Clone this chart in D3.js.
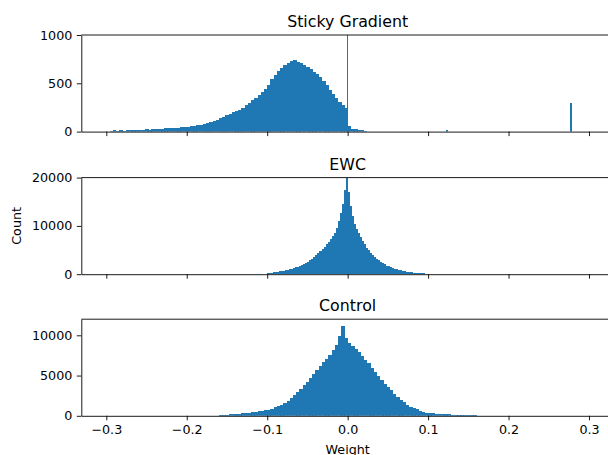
<!DOCTYPE html>
<html>
<head>
<meta charset="utf-8">
<script src="https://cdn.jsdelivr.net/npm/d3@7"></script>
<style>
  body { margin: 0; background: #fff; }
  svg { display: block; font-family: "DejaVu Sans", sans-serif; }
</style>
</head>
<body>
<div id="chart"></div>
<script>
// panels, top to bottom
const panelTitles = ["Sticky Gradient", "EWC", "Control"];
const panelYMax = [1000, 20000, 12000];
const panelYTicks = [[0, 500, 1000], [0, 10000, 20000], [0, 5000, 10000]];
const xTicks = [-0.3, -0.2, -0.1, 0.0, 0.1, 0.2, 0.3];

// histogram counts (bin start, bin width, counts)
const stickyStart = -0.296;
const stickyWidth = 0.004;
const stickyCounts = [
  10, 12, 9, 13, 11, 14, 12, 17, 15, 19,
  18, 22, 20, 26, 24, 31, 29, 35, 33, 38,
  41, 37, 44, 46, 43, 55, 60, 68, 72, 80,
  88, 98, 110, 122, 138, 150, 168, 182, 205, 212,
  228, 248, 272, 300, 322, 345, 378, 405, 440, 480,
  545, 590, 625, 660, 690, 715, 728, 740, 722, 708,
  690, 670, 650, 620, 595, 565, 525, 480, 430, 385,
  345, 310, 280, 245, 55, 32, 28, 18, 14, 10
];
// single thin bins standing out of the sticky histogram
const stickySpikeWeights = [-0.0012, 0.1225, 0.2765];
const stickySpikeCounts = [1100, 15, 293];
const stickySpikeWidth = 0.00125;

const ewcStart = -0.1;
const ewcWidth = 0.0025;
const ewcCounts = [
  200, 260, 320, 390, 470, 540, 600, 660, 730, 830,
  920, 1000, 1120, 1260, 1400, 1540, 1700, 1880, 2080, 2330,
  2600, 2880, 3250, 3600, 3950, 4300, 4700, 5200, 5650, 6150,
  6650, 7250, 7900, 8600, 9600, 11000, 12600, 14500, 17500, 20000,
  17000, 14200, 12000, 10300, 9300, 8500, 7700, 6900, 6200, 5500,
  4950, 4450, 3900, 3500, 3200, 2900, 2620, 2350, 2080, 1800,
  1600, 1450, 1290, 1130, 1000, 880, 780, 690, 610, 540,
  470, 410, 350, 300, 260, 220, 190, 160, 140, 100
];

const controlStart = -0.16;
const controlWidth = 0.004;
const controlCounts = [
  110, 130, 150, 170, 195, 220, 250, 290, 330, 370,
  420, 480, 550, 620, 690, 780, 900, 1040, 1200, 1400,
  1650, 1900, 2200, 2550, 2950, 3350, 3800, 4250, 4700, 5200,
  5700, 6200, 6650, 7100, 7600, 8150, 8750, 9900, 11200, 9700,
  9000, 8700, 8300, 7950, 7450, 6950, 6500, 6000, 5500, 5000,
  4500, 4000, 3600, 3150, 2750, 2350, 2000, 1680, 1400, 1150,
  960, 800, 640, 500, 400, 330, 290, 250, 220, 200,
  180, 165, 150, 140, 130, 120, 110, 100, 90, 60
];

const barColor = "#1f77b4";
const W = 608, H = 455;
const plotLeft = 81.3, plotRight = 614;
const panelTops = [35, 177.6, 319.2];
const panelHeight = 96.6;
const tickFont = "12.7px";

function toBins(start, width, counts) {
  return counts.map((c, i) => ({ x0: start + i * width, x1: start + (i + 1) * width, count: c }));
}

const panelBins = [
  toBins(stickyStart, stickyWidth, stickyCounts)
    .concat(stickySpikeWeights.map((w, i) => ({ x0: w, x1: w + stickySpikeWidth, count: stickySpikeCounts[i] }))),
  toBins(ewcStart, ewcWidth, ewcCounts),
  toBins(controlStart, controlWidth, controlCounts)
];

const x = d3.scaleLinear()
    .domain([-0.3311, 0.3311])
    .range([plotLeft, plotRight]);

const svg = d3.select("#chart").append("svg")
    .attr("width", W)
    .attr("height", H);

panelTitles.forEach((title, p) => {
  const top = panelTops[p];
  const bottom = top + panelHeight;

  const y = d3.scaleLinear()
      .domain([0, panelYMax[p]])
      .range([bottom, top]);

  const g = svg.append("g");

  g.append("clipPath")
      .attr("id", `clip-${p}`)
    .append("rect")
      .attr("x", plotLeft)
      .attr("y", top)
      .attr("width", plotRight - plotLeft)
      .attr("height", panelHeight);

  // bars, snapped to pixels so neighbouring bins leave no seams
  g.append("g")
      .attr("clip-path", `url(#clip-${p})`)
      .attr("shape-rendering", "crispEdges")
    .selectAll("rect")
    .data(panelBins[p])
    .enter()
    .append("rect")
      .attr("x", d => x(d.x0))
      .attr("y", d => y(d.count))
      .attr("width", d => Math.max(1, x(d.x1) - x(d.x0) + 0.5))
      .attr("height", d => y(0) - y(d.count))
      .attr("fill", barColor);

  // x axis (labels only on the bottom panel)
  const xAxis = d3.axisBottom(x)
      .tickValues(xTicks)
      .tickSize(4.5)
      .tickSizeOuter(0)
      .tickPadding(4.5)
      .tickFormat(p === 2 ? d3.format(".1f") : "");

  g.append("g")
      .attr("class", "axis axis--x")
      .attr("transform", `translate(0,${bottom})`)
      .call(xAxis)
      .style("font-size", tickFont)
      .style("font-family", "DejaVu Sans")
      .style("color", "#000");

  g.append("g")
      .attr("class", "axis axis--y")
      .attr("transform", `translate(${plotLeft},0)`)
      .call(d3.axisLeft(y)
          .tickValues(panelYTicks[p])
          .tickSize(4.5)
          .tickSizeOuter(0)
          .tickPadding(4.5)
          .tickFormat(d3.format("d")))
      .style("font-size", tickFont)
      .style("font-family", "DejaVu Sans")
      .style("color", "#000");

  g.selectAll(".axis path, .axis line").attr("stroke-width", 0.9);

  // top spine
  g.append("line")
      .attr("x1", plotLeft)
      .attr("x2", plotRight)
      .attr("y1", top)
      .attr("y2", top)
      .attr("stroke", "#000")
      .attr("stroke-width", 0.9);

  // title
  g.append("text")
      .attr("x", (plotLeft + plotRight) / 2)
      .attr("y", top - 8)
      .style("text-anchor", "middle")
      .style("font-size", "15.8px")
      .style("fill", "#000")
      .text(title);
});

// axis labels
svg.append("text")
    .attr("transform", `translate(20.5,${panelTops[1] + panelHeight / 2}) rotate(-90)`)
    .style("text-anchor", "middle")
    .style("font-size", tickFont)
    .style("fill", "#000")
    .text("Count");

svg.append("text")
    .attr("x", (plotLeft + plotRight) / 2)
    .attr("y", 453.5)
    .style("text-anchor", "middle")
    .style("font-size", tickFont)
    .style("fill", "#000")
    .text("Weight");
</script>
</body>
</html>
